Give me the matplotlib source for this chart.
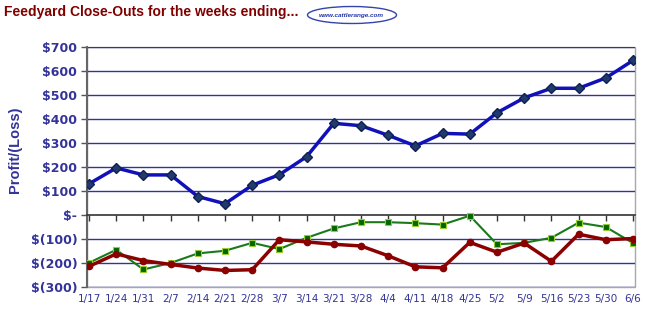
import matplotlib.pyplot as plt
from matplotlib.patches import Ellipse, Rectangle
from matplotlib.ticker import FuncFormatter
import matplotlib.transforms as mtransforms

weeks = ["1/17", "1/24", "1/31", "2/7", "2/14", "2/21", "2/28", "3/7", "3/14", "3/21",
         "3/28", "4/4", "4/11", "4/18", "4/25", "5/2", "5/9", "5/16", "5/23", "5/30", "6/6"]
blue_vals = [130, 196, 167, 167, 77, 47, 124, 168, 243, 382,
             372, 332, 288, 340, 337, 426, 488, 528, 528, 571, 644]
green_vals = [-199, -145, -227, -200, -160, -149, -116, -142, -95, -56,
              -30, -30, -34, -40, -3, -122, -116, -95, -32, -50, -117]
red_vals = [-214, -162, -190, -206, -221, -231, -228, -103, -112, -122,
            -129, -170, -216, -220, -114, -155, -117, -193, -80, -103, -98]

label_col = "#333399"


def money(v, pos):
    if v == 0:
        return "$-"
    if v < 0:
        return "$(%d)" % abs(v)
    return "$%d" % v


fig = plt.figure(figsize=(6.45, 3.10), dpi=100)
ax = fig.add_axes([0.1349, 0.0742, 0.8496, 0.7742])
x = list(range(len(weeks)))

for v in range(-300, 701, 100):
    if v != 0:
        ax.axhline(v, color="#3333a0", linewidth=1.0, zorder=1)

ax.plot(x, green_vals, color="#1a7a1a", linewidth=1.5, marker="s", markersize=5,
        markerfacecolor="#006600", markeredgecolor="#99cc33", markeredgewidth=0.8, zorder=3)
ax.plot(x, red_vals, color="#8b0000", linewidth=2.5, marker="o", markersize=4.5,
        markerfacecolor="#8b0000", markeredgecolor="#8b0000", zorder=4)
ax.plot(x, blue_vals, color="#1111bb", linewidth=2.5, marker="D", markersize=5,
        markerfacecolor="#1f3a6e", markeredgecolor="#102050", zorder=5)

ax.set_xlim(-0.074, 20.074)
ax.set_ylim(-300, 700)
ax.set_yticks(range(-300, 701, 100))
ax.yaxis.set_major_formatter(FuncFormatter(money))
ax.tick_params(axis="y", direction="out", length=4, color="#555555", width=1,
               labelsize=9, labelcolor=label_col, pad=3)
for t in ax.get_yticklabels():
    t.set_fontweight("bold")

ax.set_xticks(x)
ax.spines["bottom"].set_position(("data", 0))
ax.spines["bottom"].set_color("#333333")
ax.spines["bottom"].set_linewidth(1.2)
ax.tick_params(axis="x", direction="out", length=4, color="#333333", width=1,
               labelbottom=False)
ax.spines["left"].set_color("#666666")
ax.spines["left"].set_linewidth(1.5)
ax.spines["top"].set_visible(False)
ax.spines["right"].set_visible(False)
ax.add_patch(Rectangle((0, 0), 1, 1, transform=ax.transAxes, fill=False,
                       edgecolor="#a8a8a8", linewidth=1.0, zorder=0.5, clip_on=False))

trans = mtransforms.blended_transform_factory(ax.transData, ax.transAxes)
for i, w in enumerate(weeks):
    ax.text(i, -0.03, w, transform=trans, ha="center", va="top", fontsize=7.5,
            color=label_col)

fig.text(0.024, 0.516, "Profit/(Loss)", rotation=90, ha="center", va="center",
         fontsize=10.5, fontweight="bold", color=label_col, family="Liberation Sans")

fig.text(0.006, 0.962, "Feedyard Close-Outs for the weeks ending...", ha="left",
         va="center", fontsize=10, fontweight="bold", color="#800000",
         family="Liberation Sans")
fig.patches.append(Ellipse((352 / 645, 1 - 15 / 310), 89 / 645, 17 / 310,
                           transform=fig.transFigure, facecolor="white",
                           edgecolor="#3344aa", linewidth=1.0))
fig.text(351 / 645, 1 - 15 / 310, "www.cattlerange.com", ha="center", va="center",
         fontsize=4.6, fontweight="bold", fontstyle="italic", color="#2233aa",
         family="Liberation Sans")

fig.savefig("out.png", dpi=100)
